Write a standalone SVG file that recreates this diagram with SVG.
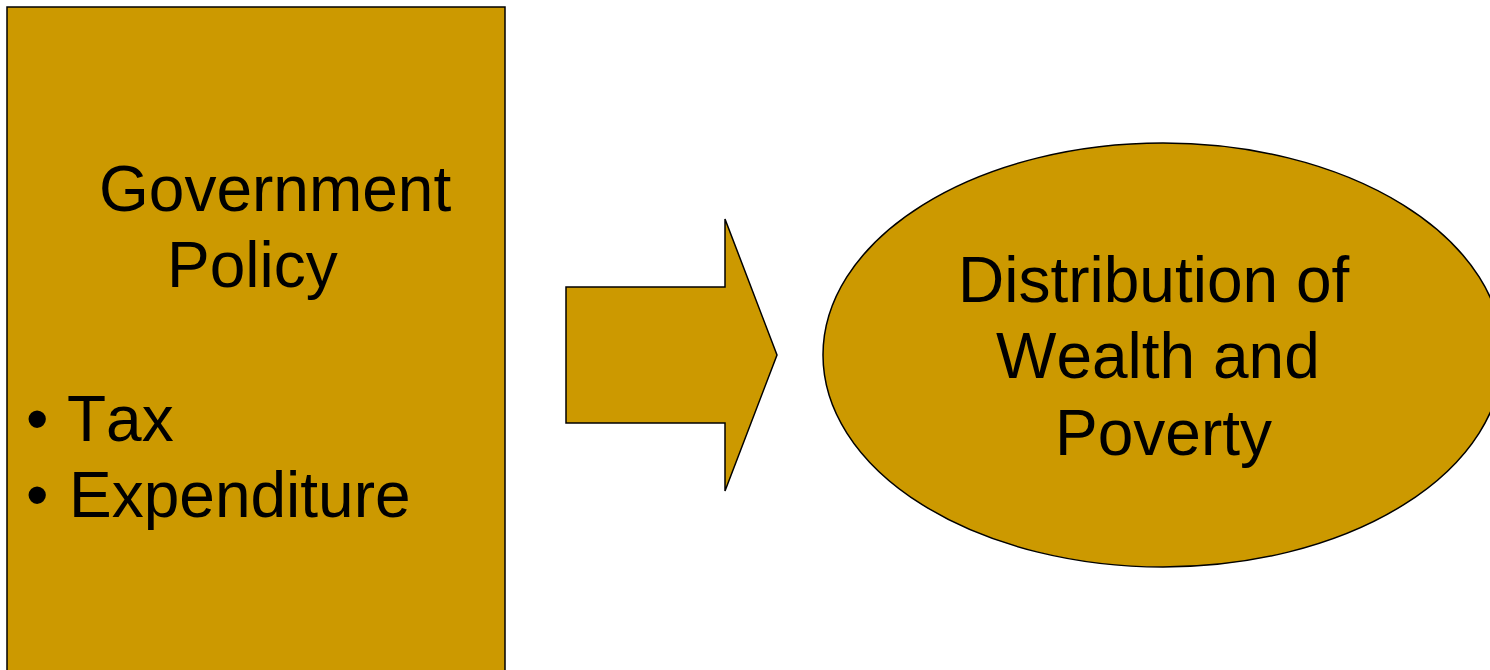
<svg xmlns="http://www.w3.org/2000/svg" width="1490" height="670" viewBox="0 0 1490 670">
<style>
.shape{fill:#CC9900;stroke:#000;stroke-width:1.5}
.t{font-family:"Liberation Sans",Arial,sans-serif;font-size:64px;fill:#000;font-kerning:none}
</style>
<rect width="1490" height="670" fill="#fff"/>
<g id="policy">
<rect class="shape" x="7" y="7" width="498" height="700"/>
<text class="t" x="99" y="211">Government</text>
<text class="t" x="167" y="287">Policy</text>
<text class="t" x="26" y="441">•</text>
<text class="t" x="67" y="441">Tax</text>
<text class="t" x="26" y="517">•</text>
<text class="t" x="69" y="517">Expenditure</text>
</g>
<g id="connectors">
<polygon id="arrow" class="shape" points="566,287 725,287 725,219 777,355 725,491 725,423 566,423"/>
</g>
<g id="distribution">
<ellipse class="shape" cx="1163" cy="355" rx="340" ry="212"/>
<text class="t" x="958" y="302">Distribution of</text>
<text class="t" x="996" y="378">Wealth and</text>
<text class="t" x="1055" y="455">Poverty</text>
</g>
</svg>
